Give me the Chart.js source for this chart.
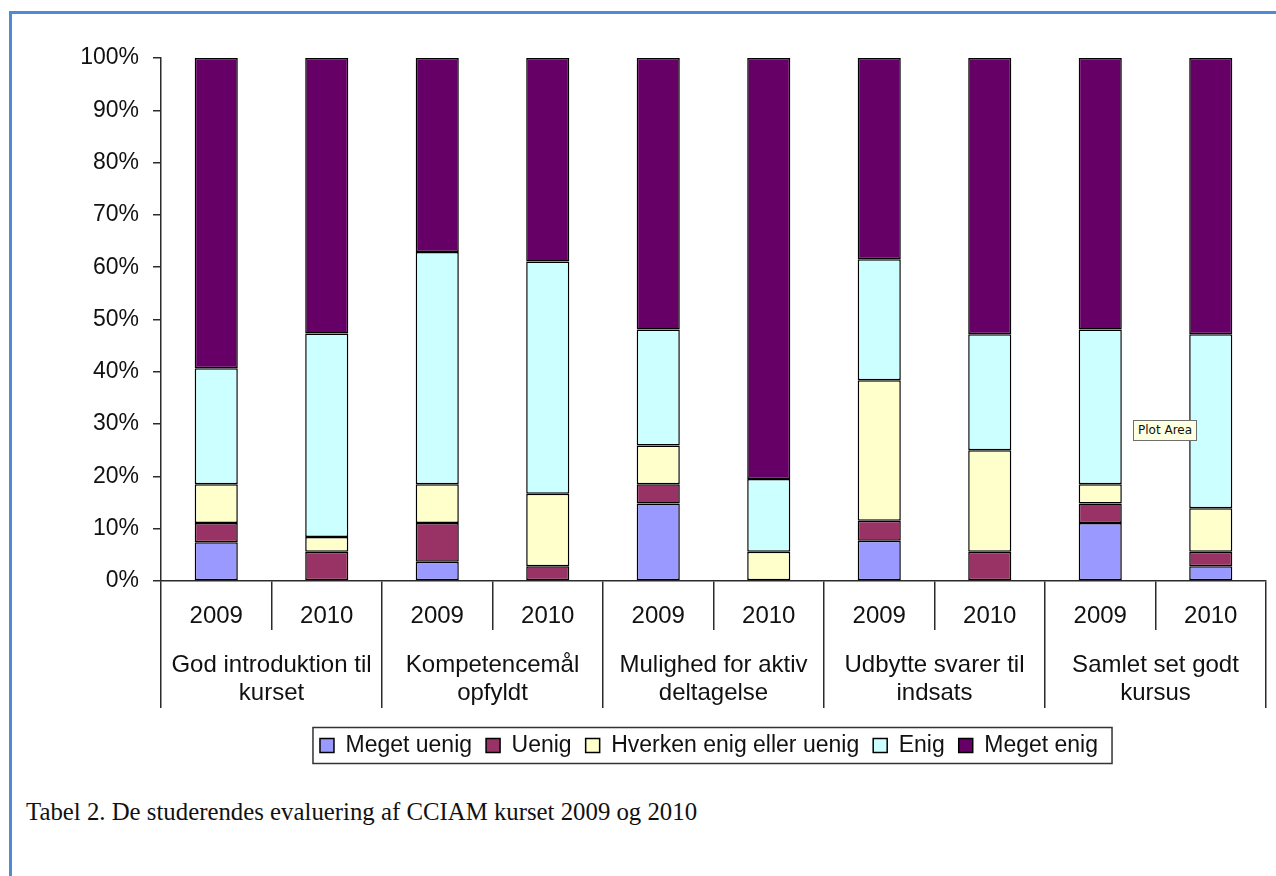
<!DOCTYPE html>
<html><head><meta charset="utf-8">
<script src="https://cdn.jsdelivr.net/npm/chart.js@4.4.1/dist/chart.umd.min.js"></script>
<style>
html,body{margin:0;padding:0;background:#fff;}
#wrap{position:relative;width:1276px;height:876px;overflow:hidden;background:#fff;}
#frameTop{position:absolute;left:9px;top:11px;width:1267px;height:3px;background:#4f8ad6;}
#frameLeft{position:absolute;left:9px;top:11px;width:3px;height:865px;background:#4f8ad6;}
#c{position:absolute;left:0;top:0;}
#caption{position:absolute;left:26px;top:800px;font-family:"Liberation Serif",serif;font-size:24.8px;line-height:1;color:#111;white-space:nowrap;}
#tip{position:absolute;left:1133px;top:420px;height:19px;padding:0 4px;background:#ffffe1;border:1px solid #6e6e6e;font-family:"DejaVu Sans",sans-serif;font-size:12px;line-height:19px;color:#111;white-space:nowrap;}
</style>
</head><body>
<div id="wrap">
  <div id="frameTop"></div>
  <div id="frameLeft"></div>
  <canvas id="c" width="1276" height="770"></canvas>
  <div id="caption">Tabel 2. De studerendes evaluering af CCIAM kurset 2009 og 2010</div>
  <div id="tip">Plot Area</div>
</div>
<script>
// ---- data ----
const years = ['2009','2010','2009','2010','2009','2010','2009','2010','2009','2010'];
const groups = [
  ['God introduktion til','kurset'],
  ['Kompetencemål','opfyldt'],
  ['Mulighed for aktiv','deltagelse'],
  ['Udbytte svarer til','indsats'],
  ['Samlet set godt','kursus']
];
const seriesNames = ['Meget uenig','Uenig','Hverken enig eller uenig','Enig','Meget enig'];
const megetUenig = [7.4, 0,    3.7,  0,    14.8, 0,    7.7,  0,    11.1, 2.8];
const uenig      = [3.7, 5.6,  7.4,  2.8,  3.7,  0,    3.8,  5.6,  3.7,  2.8];
const hverken    = [7.4, 2.8,  7.4,  13.9, 7.4,  5.6,  26.9, 19.4, 3.7,  8.3];
const enig       = [22.2,38.9, 44.4, 44.4, 22.2, 13.9, 23.1, 22.2, 29.6, 33.3];
const megetEnig  = [59.3,52.7, 37.1, 38.9, 51.9, 80.5, 38.5, 52.8, 51.9, 52.8];
const yMin = 0, yMax = 100, yStep = 10;

// ---- styles ----
const fills = ['#9999ff','#993366','#ffffcc','#ccffff','#660066'];
const lineCol = '#2b2b2b';
const textCol = '#111111';
const legendShift = 76;

const seriesValues = [megetUenig, uenig, hverken, enig, megetEnig];
const datasets = seriesNames.map((name, i) => ({
  label: name,
  data: seriesValues[i],
  backgroundColor: fills[i],
  borderColor: '#000000',
  borderWidth: 1.5,
  borderSkipped: false,
  barPercentage: 0.39,
  categoryPercentage: 1.0,
  xAxisID: 'x',
  yAxisID: 'y'
}));

const legendBox = {
  id: 'legendBox',
  afterLayout(chart) {
    const lg = chart.legend;
    if (lg) { lg.left += legendShift; lg.right += legendShift; }
  },
  afterDraw(chart) {
    const lg = chart.legend;
    if (!lg || !lg.legendHitBoxes || !lg.legendHitBoxes.length) return;
    const hb = lg.legendHitBoxes;
    const first = hb[0], last = hb[hb.length - 1];
    const cy = first.top + first.height / 2;
    const ctx = chart.ctx;
    ctx.save();
    ctx.strokeStyle = '#333333';
    ctx.lineWidth = 1.5;
    ctx.strokeRect(first.left - 7, cy - 18, (last.left + last.width + 14) - (first.left - 7), 36);
    ctx.restore();
  }
};

new Chart(document.getElementById('c'), {
  type: 'bar',
  data: { labels: years, datasets },
  plugins: [legendBox],
  options: {
    responsive: false,
    animation: false,
    devicePixelRatio: 1,
    layout: { padding: { left: 0, right: 10, top: 58, bottom: 3 } },
    plugins: {
      tooltip: { enabled: false },
      title: { display: false },
      legend: {
        position: 'bottom',
        align: 'center',
        labels: {
          boxWidth: 14,
          boxHeight: 14,
          padding: 14,
          color: textCol,
          font: { family: '"Liberation Sans", Arial, sans-serif', size: 23 }
        }
      }
    },
    scales: {
      x: {
        type: 'category',
        stacked: true,
        position: 'bottom',
        offset: true,
        grid: { display: true, offset: true, drawOnChartArea: false, drawTicks: true, tickLength: 49, color: lineCol, lineWidth: 1.5 },
        border: { display: true, color: lineCol, width: 1.5 },
        ticks: {
          autoSkip: false, maxRotation: 0, minRotation: 0,
          padding: -28.4,
          color: textCol,
          font: { family: '"Liberation Sans", Arial, sans-serif', size: 24 }
        },
        afterFit(s) { s.height = 49; }
      },
      x2: {
        type: 'category',
        labels: groups,
        position: 'bottom',
        offset: true,
        grid: { display: true, offset: true, drawOnChartArea: false, drawTicks: true, tickLength: 78, color: lineCol, lineWidth: 1.5 },
        border: { display: false },
        ticks: {
          autoSkip: false, maxRotation: 0, minRotation: 0,
          padding: -57.4,
          color: textCol,
          font: { family: '"Liberation Sans", Arial, sans-serif', size: 24 }
        },
        afterFit(s) { s.height = 90; }
      },
      y: {
        stacked: true,
        min: yMin, max: yMax,
        grid: { display: true, drawOnChartArea: false, drawTicks: true, tickLength: 8, color: lineCol, lineWidth: 1.5 },
        border: { display: true, color: lineCol, width: 1.5 },
        ticks: {
          stepSize: yStep,
          padding: 14,
          color: textCol,
          font: { family: '"Liberation Sans", Arial, sans-serif', size: 23 },
          callback: v => v + '%'
        },
        afterFit(s) { s.width = 161; }
      }
    }
  }
});
</script>
</body></html>
